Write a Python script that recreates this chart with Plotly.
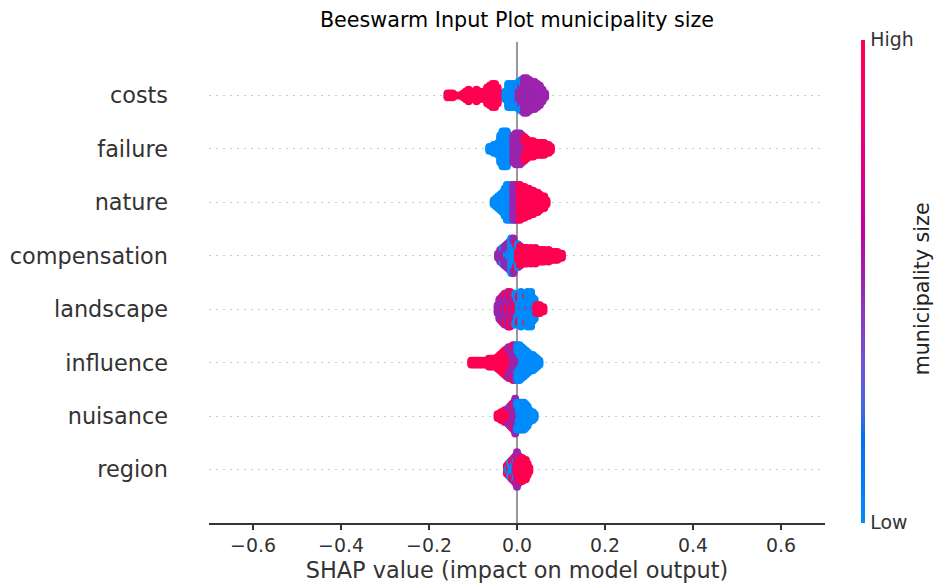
import numpy as np
import plotly.graph_objects as go

# Features, listed top to bottom as they appear on the chart
features = ["costs", "failure", "nature", "compensation",
            "landscape", "influence", "nuisance", "region"]

# Each feature: SHAP value of a bin, number of samples in that bin,
# and the normalised feature value (0 = low, 0.5 = mid, 1 = high).
costs_shap = [-0.158, -0.152, -0.146, -0.140, -0.134, -0.128, -0.122, -0.116, -0.110, -0.104,
              -0.098, -0.092, -0.086, -0.080, -0.074, -0.068, -0.062, -0.056, -0.050, -0.044,
              -0.038, -0.032, -0.026, -0.020, -0.014, -0.008, -0.002, 0.004, 0.004, 0.010,
              0.010, 0.016, 0.022, 0.028, 0.028, 0.034, 0.040, 0.046, 0.052, 0.058,
              0.064]
costs_count = [3, 3, 3, 1, 1, 1, 3, 5, 7, 5,
               3, 7, 5, 3, 5, 9, 11, 13, 13, 9,
               3, 1, 5, 13, 13, 13, 9, 9, 6, 13,
               4, 19, 19, 1, 16, 15, 15, 13, 11, 7,
               3]
costs_level = [1, 1, 1, 1, 1, 1, 1, 1, 1, 1,
               1, 1, 1, 1, 1, 1, 1, 1, 1, 1,
               1, 1, 0, 0, 0, 0, 0, 0.5, 0, 0.5,
               0, 0.5, 0.5, 0, 0.5, 0.5, 0.5, 0.5, 0.5, 0.5,
               0.5]

failure_shap = [-0.063, -0.058, -0.053, -0.048, -0.043, -0.038, -0.033, -0.028, -0.023, -0.018,
                -0.013, -0.008, -0.003, 0.002, 0.007, 0.012, 0.017, 0.017, 0.022, 0.027,
                0.032, 0.037, 0.042, 0.047, 0.052, 0.057, 0.062, 0.067, 0.072, 0.077]
failure_count = [3, 3, 5, 5, 7, 15, 19, 19, 19, 11,
                 11, 15, 17, 17, 17, 15, 7, 6, 11, 9,
                 9, 9, 7, 7, 7, 7, 7, 5, 5, 3]
failure_level = [0, 0, 0, 0, 0, 0, 0, 0, 0, 0,
                 0, 0.5, 0.5, 0.5, 0.5, 0.5, 0.5, 1, 1, 1,
                 1, 1, 1, 1, 1, 1, 1, 1, 1, 1]

nature_shap = [-0.053, -0.048, -0.043, -0.038, -0.033, -0.028, -0.023, -0.018, -0.013, -0.008,
               -0.003, 0.002, 0.007, 0.012, 0.017, 0.022, 0.027, 0.032, 0.037, 0.042,
               0.047, 0.052, 0.057, 0.062, 0.067]
nature_count = [3, 5, 7, 9, 11, 15, 19, 19, 19, 19,
                19, 19, 19, 17, 17, 15, 15, 13, 13, 11,
                11, 9, 7, 7, 3]
nature_level = [0, 0, 0, 0, 0, 0, 0, 0, 0, 0.5,
                0.5, 0.5, 1, 1, 1, 1, 1, 1, 1, 1,
                1, 1, 1, 1, 1]

compensation_shap = [-0.043, -0.038, -0.033, -0.033, -0.028, -0.023, -0.023, -0.018, -0.018, -0.013,
                     -0.008, -0.008, -0.003, -0.003, 0.002, 0.002, 0.007, 0.012, 0.017, 0.022,
                     0.027, 0.032, 0.037, 0.042, 0.047, 0.052, 0.057, 0.062, 0.067, 0.072,
                     0.077, 0.082, 0.087, 0.092, 0.097, 0.102]
compensation_count = [3, 7, 7, 2, 11, 4, 9, 6, 9, 19,
                      15, 4, 11, 2, 9, 4, 11, 9, 9, 9,
                      7, 9, 7, 9, 7, 7, 7, 7, 5, 7,
                      5, 5, 5, 5, 3, 3]
compensation_level = [0.5, 0.5, 0.5, 0, 0.5, 0, 0.5, 0, 0.5, 0,
                      0, 0.5, 0, 1, 1, 0, 1, 1, 1, 1,
                      1, 1, 1, 1, 1, 1, 1, 1, 1, 1,
                      1, 1, 1, 1, 1, 1]

landscape_shap = [-0.044, -0.040, -0.036, -0.032, -0.032, -0.028, -0.028, -0.024, -0.024, -0.020,
                  -0.020, -0.016, -0.016, -0.012, -0.012, -0.008, -0.008, -0.004, -0.004, -0.004,
                  0.000, 0.000, 0.004, 0.004, 0.009, 0.013, 0.013, 0.017, 0.021, 0.021,
                  0.024, 0.028, 0.028, 0.032, 0.036, 0.040, 0.040, 0.044, 0.048, 0.052,
                  0.056, 0.060]
landscape_count = [5, 11, 13, 13, 2, 4, 13, 12, 5, 7,
                   12, 12, 7, 7, 10, 8, 9, 8, 5, 4,
                   8, 7, 11, 4, 19, 2, 13, 15, 13, 2,
                   19, 2, 15, 19, 13, 2, 9, 5, 5, 5,
                   3, 3]
landscape_level = [0.5, 0.5, 0.5, 0.5, 1, 1, 0.5, 0.5, 1, 1,
                   0.5, 0.5, 1, 1, 0.5, 0.5, 1, 1, 0.5, 0,
                   1, 0, 0, 1, 0, 1, 0, 0, 0, 1,
                   0, 1, 0, 0, 0, 1, 0, 1, 1, 1,
                   1, 1]

influence_shap = [-0.104, -0.099, -0.094, -0.089, -0.084, -0.079, -0.074, -0.069, -0.064, -0.059,
                  -0.054, -0.049, -0.044, -0.039, -0.034, -0.029, -0.024, -0.019, -0.019, -0.014,
                  -0.014, -0.009, -0.009, -0.004, 0.001, 0.001, 0.006, 0.006, 0.011, 0.011,
                  0.016, 0.021, 0.026, 0.031, 0.036, 0.041, 0.046, 0.051]
influence_count = [3, 3, 3, 3, 3, 3, 3, 3, 5, 5,
                   5, 5, 7, 9, 11, 13, 15, 13, 4, 8,
                   9, 15, 4, 19, 10, 9, 6, 13, 2, 15,
                   15, 13, 11, 9, 9, 7, 5, 3]
influence_level = [1, 1, 1, 1, 1, 1, 1, 1, 1, 1,
                   1, 1, 1, 1, 1, 1, 1, 1, 0.5, 1,
                   0.5, 0.5, 1, 0.5, 0.5, 0, 0.5, 0, 0.5, 0,
                   0, 0, 0, 0, 0, 0, 0, 0]

nuisance_shap = [-0.044, -0.040, -0.036, -0.032, -0.028, -0.024, -0.020, -0.020, -0.016, -0.016,
                 -0.012, -0.012, -0.008, -0.008, -0.004, 0.000, 0.000, 0.004, 0.004, 0.008,
                 0.012, 0.016, 0.020, 0.024, 0.028, 0.032, 0.036, 0.040]
nuisance_count = [3, 3, 5, 5, 7, 7, 7, 2, 7, 4,
                  6, 7, 9, 6, 19, 11, 4, 3, 12, 15,
                  15, 15, 13, 11, 7, 5, 5, 3]
nuisance_level = [1, 1, 1, 1, 1, 1, 1, 0.5, 1, 0.5,
                  1, 0.5, 0.5, 1, 0.5, 0.5, 0, 1, 0, 0,
                  0, 0, 0, 0, 0, 0, 0, 0]

region_shap = [-0.023, -0.023, -0.019, -0.019, -0.015, -0.015, -0.011, -0.011, -0.007, -0.007,
               -0.007, -0.003, -0.003, -0.003, 0.000, 0.000, 0.004, 0.004, 0.008, 0.012,
               0.016, 0.020, 0.024, 0.028]
region_count = [3, 2, 5, 2, 4, 5, 7, 4, 8, 3,
                2, 8, 5, 2, 10, 9, 13, 2, 13, 13,
                11, 11, 7, 3]
region_level = [0, 1, 0, 1, 1, 0, 0, 1, 0, 1,
                0.5, 0.5, 0, 1, 1, 0.5, 1, 0.5, 1, 1,
                1, 1, 1, 1]

x_ticks = [-0.6, -0.4, -0.2, 0.0, 0.2, 0.4, 0.6]
x_tick_labels = ["\u22120.6", "\u22120.4", "\u22120.2", "0.0", "0.2", "0.4", "0.6"]

series = {
    "costs": (costs_shap, costs_count, costs_level),
    "failure": (failure_shap, failure_count, failure_level),
    "nature": (nature_shap, nature_count, nature_level),
    "compensation": (compensation_shap, compensation_count, compensation_level),
    "landscape": (landscape_shap, landscape_count, landscape_level),
    "influence": (influence_shap, influence_count, influence_level),
    "nuisance": (nuisance_shap, nuisance_count, nuisance_level),
    "region": (region_shap, region_count, region_level),
}


def lch2rgb(l, c, h):
    """CIE LCh (D65) -> sRGB in 0..255."""
    a, b = c * np.cos(h), c * np.sin(h)
    fy = (l + 16.0) / 116.0
    fx, fz = fy + a / 500.0, fy - b / 200.0

    def finv(t):
        return t ** 3 if t > 6 / 29 else 3 * (6 / 29) ** 2 * (t - 4 / 29)
    X, Y, Z = 0.95047 * finv(fx), 1.0 * finv(fy), 1.08883 * finv(fz)
    r = 3.2406 * X - 1.5372 * Y - 0.4986 * Z
    g = -0.9689 * X + 1.8758 * Y + 0.0415 * Z
    bb = 0.0557 * X - 0.2040 * Y + 1.0570 * Z
    out = []
    for v in (r, g, bb):
        v = min(max(v, 0.0), 1.0)
        v = 12.92 * v if v <= 0.0031308 else 1.055 * v ** (1 / 2.4) - 0.055
        out.append(int(round(min(max(v, 0.0), 1.0) * 255)))
    return out


# blue -> purple -> red scale, interpolated in LCh with a darker middle
blue_lch = (54.0, 70.0, 4.6588)
red_lch = (54.0, 90.0, 0.35470565 + 2 * np.pi)
l_mid = 40.0
colorscale = []
for p in np.linspace(0, 1, 41):
    if p <= 0.5:
        l = blue_lch[0] + (l_mid - blue_lch[0]) * (p / 0.5)
    else:
        l = l_mid + (red_lch[0] - l_mid) * ((p - 0.5) / 0.5)
    c = blue_lch[1] + (red_lch[1] - blue_lch[1]) * p
    h = blue_lch[2] + (red_lch[2] - blue_lch[2]) * p
    r, g, b = lch2rgb(l, c, h)
    colorscale.append([float(p), f"rgb({r},{g},{b})"])

# Beeswarm layout: points sharing a bin are stacked alternately above/below
row_height = 0.4
n_rows = len(features)
xs_all, ys_all, cs_all = [], [], []
for rank, name in enumerate(features):
    row = n_rows - 1 - rank
    shap_vals, counts, levels = series[name]
    layers = {}
    xs, ys, cs = [], [], []
    for v, n, lv in zip(shap_vals, counts, levels):
        for _ in range(n):
            k = layers.get(v, 0)
            ys.append(np.ceil(k / 2) * ((k % 2) * 2 - 1))
            layers[v] = k + 1
            xs.append(v)
            cs.append(lv)
    ys = np.array(ys, dtype=float)
    ys *= 0.9 * (row_height / np.max(ys + 1))
    xs_all.extend(xs)
    ys_all.extend((row + ys).tolist())
    cs_all.extend(cs)

fig = go.Figure()
fig.add_trace(go.Scatter(
    x=xs_all, y=ys_all, mode="markers",
    marker=dict(
        size=8, color=cs_all, colorscale=colorscale, cmin=0, cmax=1,
        line=dict(width=0), opacity=1,
        colorbar=dict(
            thickness=4, len=483, lenmode="pixels",
            x=1.0584, xanchor="left", xpad=0,
            y=0.503, yanchor="middle", ypad=0,
            outlinewidth=0, tickvals=[0, 1], ticktext=["Low", "High"],
            ticks="outside", ticklen=2, tickcolor="rgba(0,0,0,0)",
            tickfont=dict(family="DejaVu Sans", size=18.9, color="#333333"),
        ),
    ),
    hoverinfo="skip", showlegend=False,
))

fig.update_layout(
    width=936, height=586,
    margin=dict(l=209, r=111, t=42, b=63, autoexpand=False),
    paper_bgcolor="white", plot_bgcolor="white",
    font=dict(family="DejaVu Sans", color="#333333"),
    title=dict(text="Beeswarm Input Plot municipality size",
               x=0.5, xref="paper", xanchor="center",
               y=1 - 20 / 586, yanchor="middle",
               font=dict(family="DejaVu Sans", size=20.7, color="#000000")),
    xaxis=dict(
        range=[-0.7, 0.7], tickvals=x_ticks, ticktext=x_tick_labels,
        automargin=False,
        showgrid=False, zeroline=True, zerolinecolor="#999999", zerolinewidth=2,
        showline=True, linecolor="#333333", linewidth=1.5,
        ticks="outside", ticklen=5, tickwidth=1.5, tickcolor="#333333",
        tickfont=dict(size=18.9, color="#333333"),
        title=dict(text="SHAP value (impact on model output)",
                   font=dict(size=22.4, color="#333333"), standoff=7),
    ),
    yaxis=dict(
        range=[-1, n_rows], tickvals=list(range(n_rows)),
        ticktext=list(reversed(features)),
        automargin=False,
        showgrid=True, gridcolor="#cccccc", gridwidth=1, griddash="2px,5px",
        zeroline=False, showline=False, ticks="",
        ticklabelstandoff=40,
        tickfont=dict(size=22.4, color="#333333"),
    ),
    annotations=[dict(
        text="municipality size", textangle=-90,
        x=1.1575, y=0.486, xref="paper", yref="paper",
        xanchor="center", yanchor="middle", showarrow=False,
        font=dict(family="DejaVu Sans", size=20.6, color="#222222"),
    )],
)

fig.write_html("out.html")
